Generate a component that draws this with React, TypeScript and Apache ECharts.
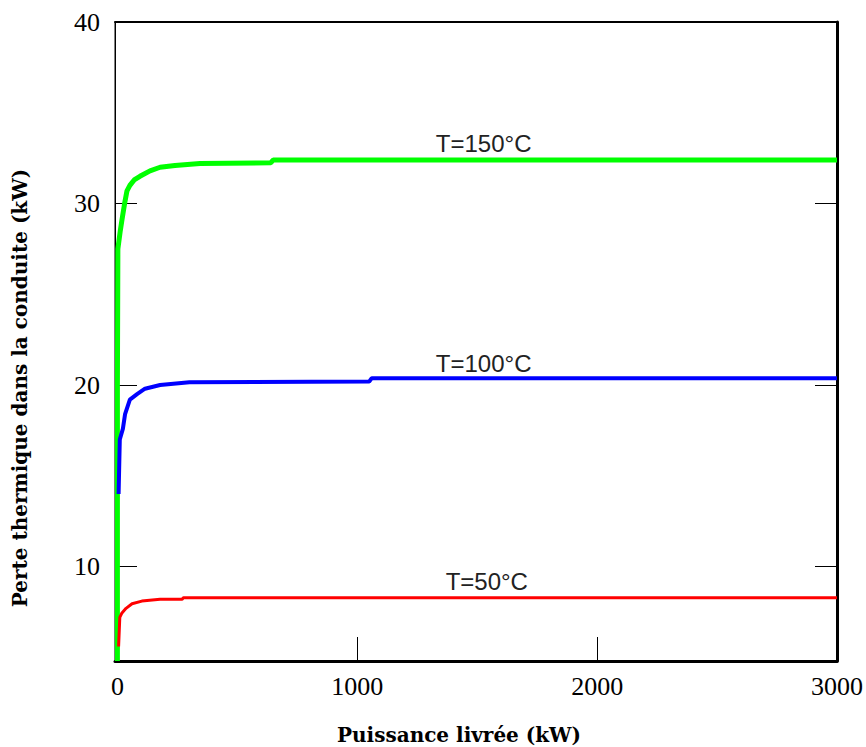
import React, { useEffect, useRef } from "react";
import * as echarts from "echarts";

const xTicks = [0, 1000, 2000, 3000];
const yTicks = [10, 20, 30, 40];

// [Puissance livrée (kW), Perte thermique (kW)]
const t150: [number, number][] = [
  [0, 4.8], [0, 20], [2, 27.5], [12, 28.5], [19, 29.1], [30, 30.0], [40, 30.7],
  [52, 31.0], [70, 31.3], [94, 31.5], [136, 31.8], [178, 32.0], [240, 32.1],
  [344, 32.2], [640, 32.25], [650, 32.4], [3000, 32.4],
];
const t100: [number, number][] = [
  [5, 14.0], [10, 17.0], [23, 17.6], [32, 18.4], [52, 19.2], [82, 19.5],
  [115, 19.8], [178, 20.0], [300, 20.15], [1050, 20.2], [1060, 20.37], [3000, 20.37],
];
const t50: [number, number][] = [
  [5, 5.6], [10, 7.2], [19, 7.45], [36, 7.7], [61, 7.95], [102, 8.1],
  [178, 8.2], [270, 8.2], [275, 8.28], [3000, 8.28],
];

const labels = [
  { name: "T=150°C", coord: [1527, 33.3] },
  { name: "T=100°C", coord: [1527, 21.2] },
  { name: "T=50°C", coord: [1540, 9.2] },
];

export default function App() {
  const ref = useRef<HTMLDivElement>(null);
  useEffect(() => {
    const chart = echarts.init(ref.current!, null, { renderer: "svg" });
    const tickFont = {
      fontFamily: "Liberation Serif",
      fontSize: 26,
      color: "#000",
      formatter: (v: number) => String(v),
    };
    const lineSeries = (data: [number, number][], color: string, width: number, lab: any) => ({
      type: "line",
      data,
      showSymbol: false,
      symbol: "none",
      lineStyle: { color, width },
      clip: true,
      markPoint: {
        symbol: "circle",
        symbolSize: 0,
        data: [{ coord: lab.coord, value: lab.name }],
        label: {
          show: true,
          formatter: lab.name,
          fontFamily: "Liberation Sans",
          fontSize: 24,
          color: "#222",
          position: "inside",
        },
      },
    });
    chart.setOption({
      animation: false,
      backgroundColor: "#fff",
      grid: { left: 115, top: 22, right: 29, bottom: 86, show: true, borderColor: "#000", borderWidth: 1 },
      xAxis: [
        {
          type: "value",
          min: -10,
          max: 3000,
          position: "bottom",
          axisLine: { show: true, onZero: false, lineStyle: { color: "#000", width: 3 } },
          axisTick: { show: true, inside: true, length: 24, customValues: xTicks, lineStyle: { color: "#000", width: 1 } },
          axisLabel: { show: true, customValues: xTicks, margin: 12, ...tickFont },
          splitLine: { show: false },
        },
        {
          type: "value",
          min: -10,
          max: 3000,
          position: "top",
          axisLine: { show: true, onZero: false, lineStyle: { color: "#000", width: 2 } },
          axisTick: { show: false },
          axisLabel: { show: false },
          splitLine: { show: false },
        },
      ],
      yAxis: [
        {
          type: "value",
          min: 4.8,
          max: 40,
          position: "left",
          axisLine: { show: true, onZero: false, lineStyle: { color: "#000", width: 1 } },
          axisTick: { show: true, inside: true, length: 22, customValues: yTicks, lineStyle: { color: "#000", width: 1 } },
          axisLabel: { show: true, customValues: yTicks, margin: 15, ...tickFont },
          splitLine: { show: false },
        },
        {
          type: "value",
          min: 4.8,
          max: 40,
          position: "right",
          axisLine: { show: true, onZero: false, lineStyle: { color: "#000", width: 3 } },
          axisTick: { show: true, inside: true, length: 22, customValues: [10, 20, 30], lineStyle: { color: "#000", width: 1 } },
          axisLabel: { show: false },
          splitLine: { show: false },
        },
      ],
      graphic: [
        {
          type: "text",
          x: 459,
          y: 735,
          style: {
            text: "Puissance livrée (kW)",
            fontFamily: "DejaVu Serif",
            fontWeight: "bold",
            fontSize: 20,
            fill: "#000",
            align: "center",
            verticalAlign: "middle",
          },
        },
        {
          type: "text",
          x: 20,
          y: 388,
          rotation: Math.PI / 2,
          style: {
            text: "Perte thermique dans la conduite (kW)",
            fontFamily: "DejaVu Serif",
            fontWeight: "bold",
            fontSize: 20,
            fill: "#000",
            align: "center",
            verticalAlign: "middle",
          },
        },
      ],
      series: [
        lineSeries(t150, "#00ff00", 5, labels[0]),
        lineSeries(t100, "#0000ff", 4, labels[1]),
        lineSeries(t50, "#ff0000", 3, labels[2]),
      ],
    });
    return () => chart.dispose();
  }, []);
  return <div ref={ref} style={{ width: 866, height: 747, position: "absolute", left: 0, top: 0 }} />;
}
